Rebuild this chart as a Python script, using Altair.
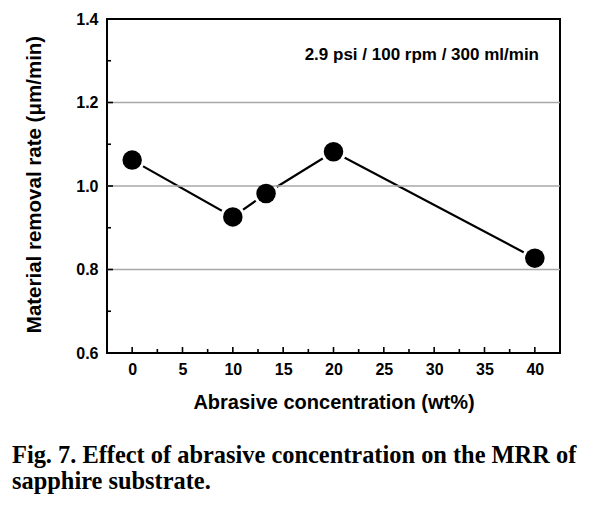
import altair as alt
import pandas as pd

# data
conc = [0, 10, 13.3, 20, 40]
mrr = [1.062, 0.926, 0.982, 1.082, 0.827]

x_ticks = [0, 5, 10, 15, 20, 25, 30, 35, 40]
x_minor = [2.5, 7.5, 12.5, 17.5, 22.5, 27.5, 32.5, 37.5]
y_ticks = [0.6, 0.8, 1.0, 1.2, 1.4]
y_minor = [0.7, 0.9, 1.1, 1.3]
grid_vals = [0.8, 1.0, 1.2]

annotation = "2.9 psi / 100 rpm / 300 ml/min"
caption = ["Fig. 7. Effect of abrasive concentration on the MRR of",
           "sapphire substrate."]
x_title = "Abrasive concentration (wt%)"
y_title = "Material removal rate (\u03bcm/min)"

W, H = 453, 334
SANS = "Liberation Sans"
SERIF = "Liberation Serif"

df = pd.DataFrame({"conc": conc, "mrr": mrr})

xs = alt.Scale(domain=[-2.5, 42.5], nice=False, zero=False)
ys = alt.Scale(domain=[0.6, 1.4], nice=False, zero=False)

x_axis = alt.Axis(values=x_ticks, title=x_title, grid=False, ticks=False, domain=False,
                  labelFont=SANS, labelFontWeight="bold", labelFontSize=16, labelColor="black",
                  labelPadding=8, titleFont=SANS, titleFontWeight="bold", titleFontSize=20,
                  titleColor="black", titleY=55, titleBaseline="alphabetic")
y_axis = alt.Axis(values=y_ticks, format=".1f", title=y_title, grid=False, ticks=False, domain=False,
                  labelFont=SANS, labelFontWeight="bold", labelFontSize=16, labelColor="black",
                  labelPadding=9, titleFont=SANS, titleFontWeight="bold", titleFontSize=20.5,
                  titleColor="black", titleX=-73, titleY=165, titleAngle=-90,
                  titleAlign="center", titleBaseline="middle")


def X(field):
    return alt.X(field, scale=xs, axis=x_axis, title=x_title)


def Y(field):
    return alt.Y(field, scale=ys, axis=y_axis, title=y_title)


line = alt.Chart(df).mark_line(color="black", strokeWidth=2.2).encode(
    x=X("conc:Q"), y=Y("mrr:Q"))

halo = alt.Chart(df).mark_circle(color="white", opacity=1, size=640).encode(
    x=X("conc:Q"), y=Y("mrr:Q"))

grid = alt.Chart(pd.DataFrame({"g": grid_vals})).mark_rule(color="#a8a8a8", strokeWidth=1.6).encode(
    y=Y("g:Q"))

points = alt.Chart(df).mark_circle(color="black", opacity=1, size=380).encode(
    x=X("conc:Q"), y=Y("mrr:Q"))

xmaj = alt.Chart(pd.DataFrame({"t": x_ticks})).mark_rule(color="black", strokeWidth=1.6).encode(
    x=X("t:Q"), y=alt.value(H), y2=alt.value(H - 6))
xmin = alt.Chart(pd.DataFrame({"t": x_minor})).mark_rule(color="black", strokeWidth=1.6).encode(
    x=X("t:Q"), y=alt.value(H), y2=alt.value(H - 4))
ymaj = alt.Chart(pd.DataFrame({"t": y_ticks})).mark_rule(color="black", strokeWidth=1.6).encode(
    y=Y("t:Q"), x=alt.value(0), x2=alt.value(6))
ymin = alt.Chart(pd.DataFrame({"t": y_minor})).mark_rule(color="black", strokeWidth=1.6).encode(
    y=Y("t:Q"), x=alt.value(0), x2=alt.value(4))

note = alt.Chart(pd.DataFrame({"s": [annotation]})).mark_text(
    font=SANS, fontWeight="bold", fontSize=17, align="right", baseline="alphabetic", color="black"
).encode(text="s:N", x=alt.value(432), y=alt.value(41))

cap = alt.Chart(pd.DataFrame({"k": [0]})).mark_text(
    text=caption, font=SERIF, fontWeight="bold", fontSize=24.4, lineHeight=26,
    align="left", baseline="alphabetic", color="black"
).encode(x=alt.value(-95), y=alt.value(444))

chart = alt.layer(line, halo, grid, points, xmaj, xmin, ymaj, ymin, note, cap).properties(
    width=W, height=H,
    padding={"left": 99, "top": 11, "right": 27, "bottom": 146},
    autosize=alt.AutoSizeParams(type="none"),
    background="white",
).configure_view(stroke="black", strokeWidth=2)

chart.save("out.html", embed_options={"renderer": "svg", "actions": False})
